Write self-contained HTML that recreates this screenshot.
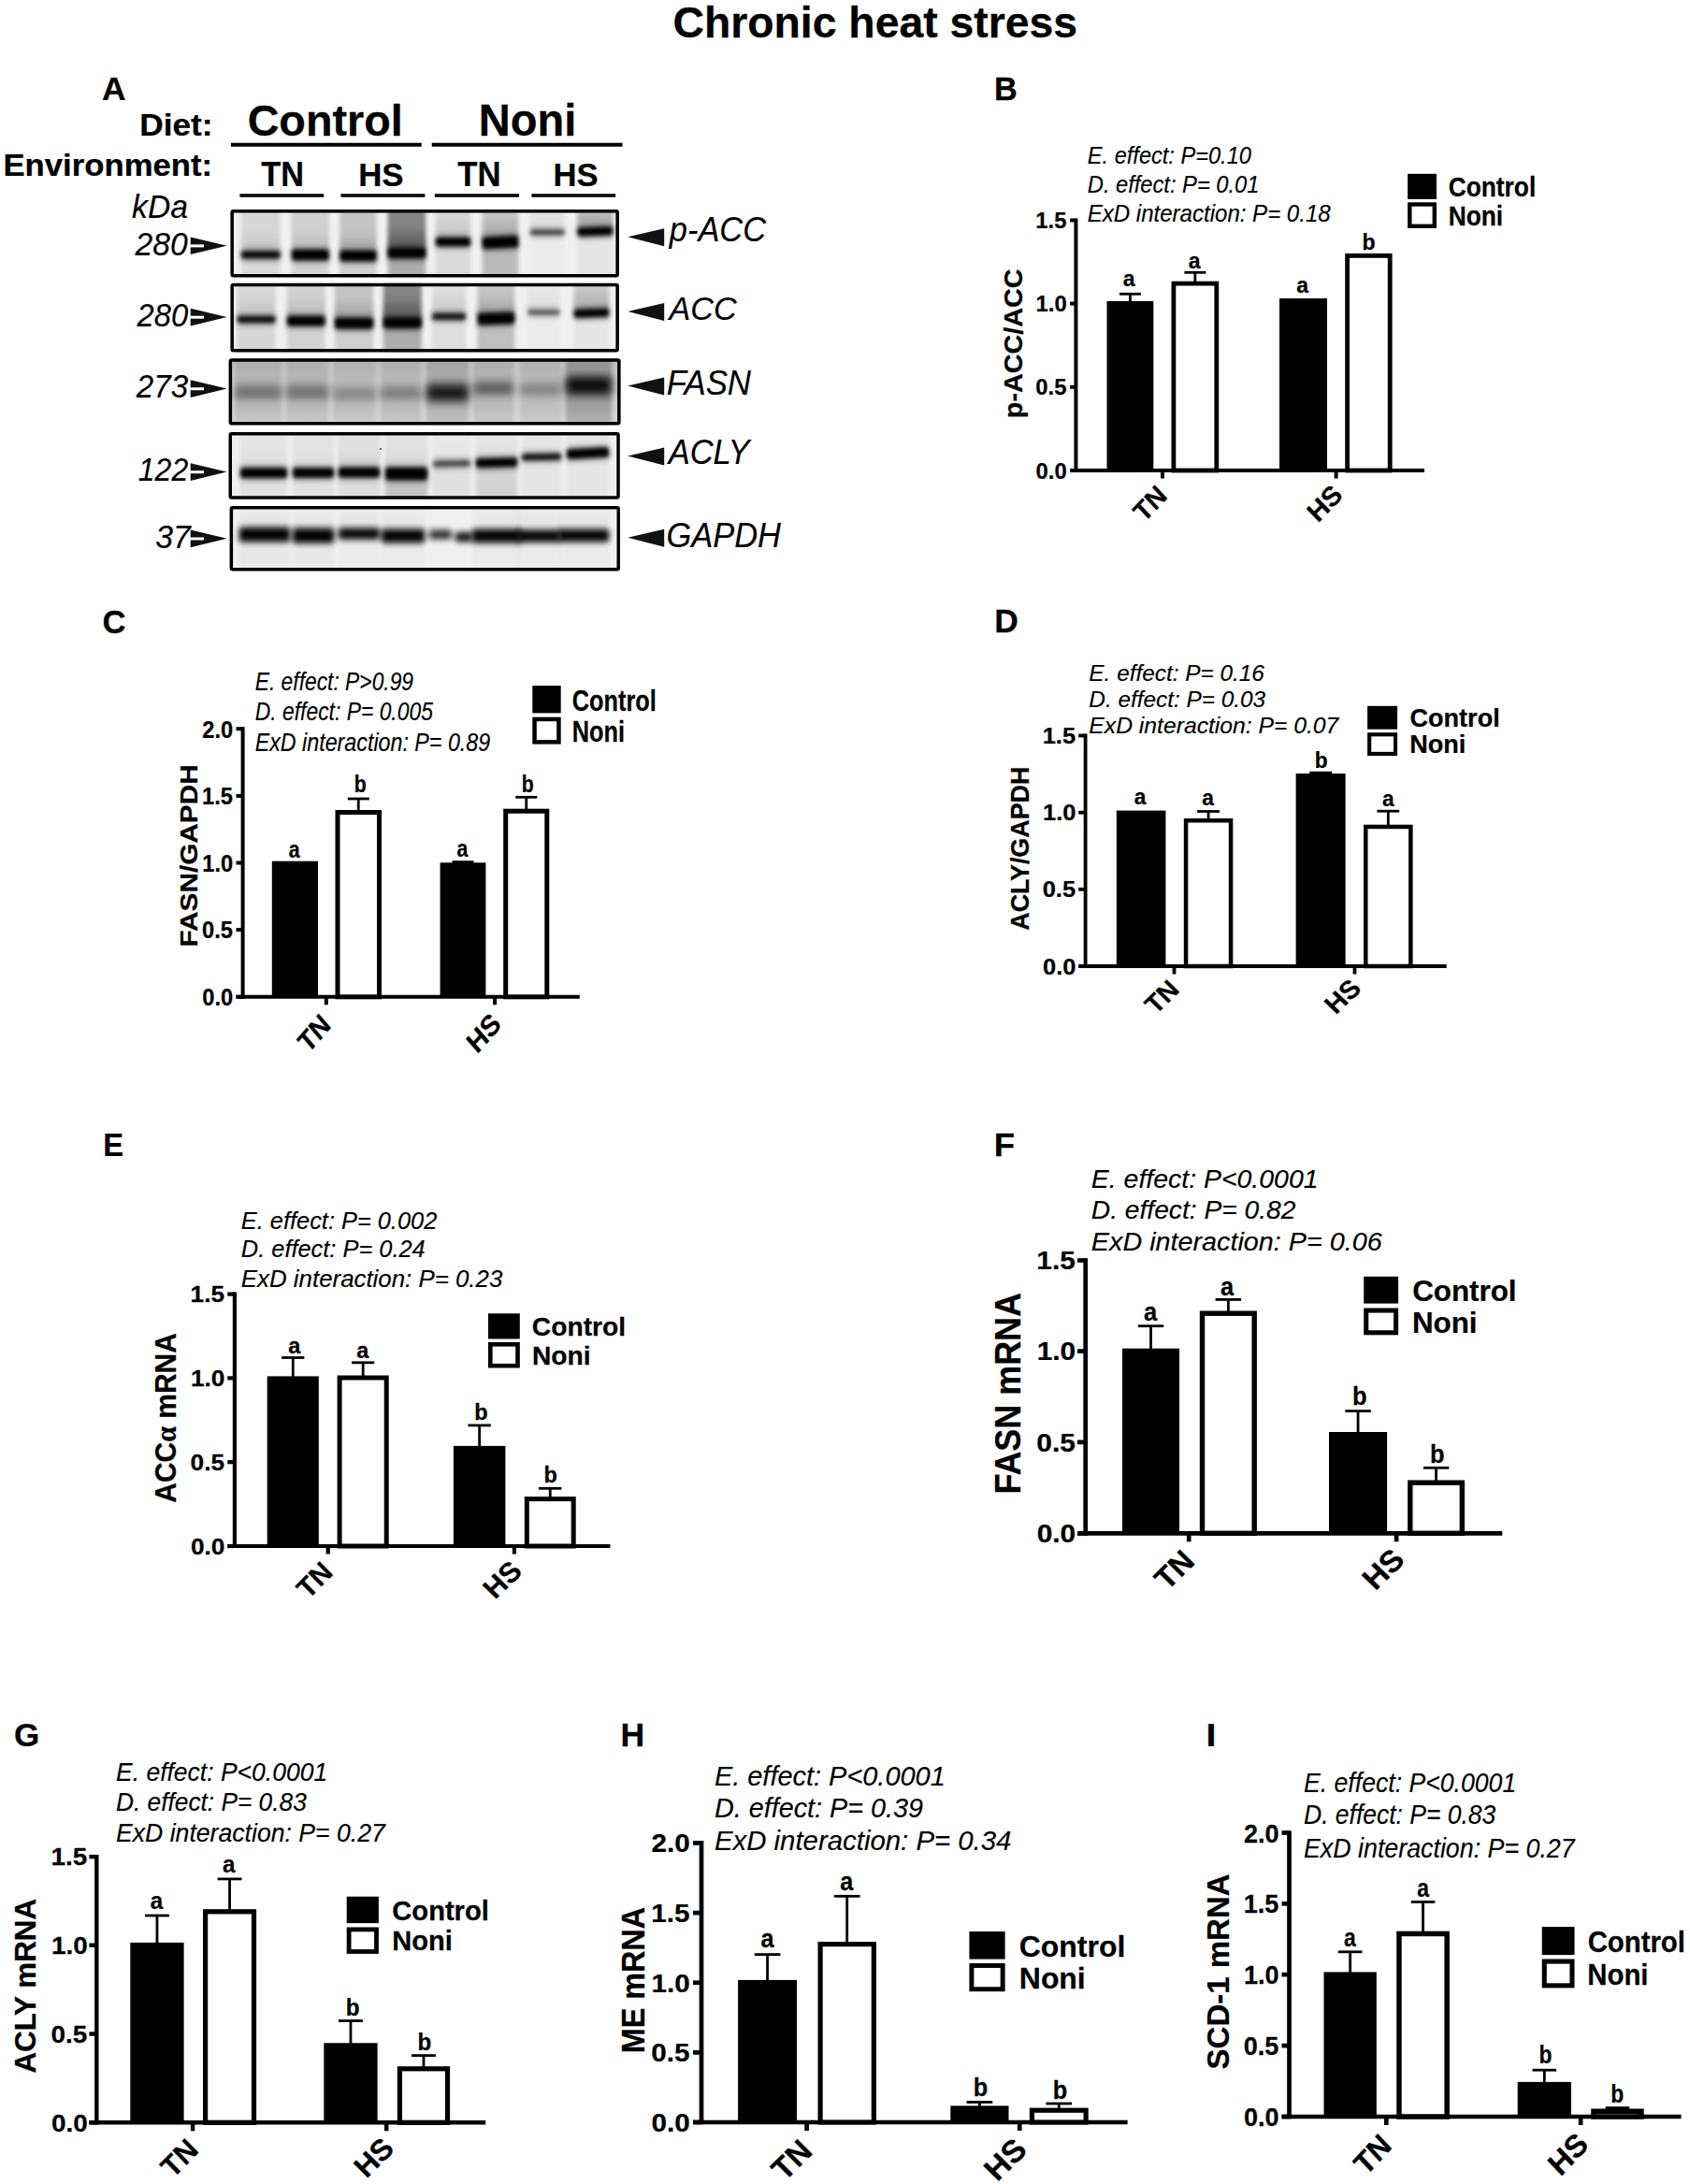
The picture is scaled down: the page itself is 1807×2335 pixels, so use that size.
<!DOCTYPE html>
<html lang="en"><head><meta charset="utf-8"><title>Chronic heat stress</title>
<style>
html,body{margin:0;padding:0;background:#fff;}
svg{display:block;}
text{font-family:"Liberation Sans",sans-serif;fill:#000;stroke:#000;stroke-width:.15px;}
text[font-weight=bold]{stroke-width:.25px;}
</style></head><body>
<svg width="1807" height="2335" viewBox="0 0 1807 2335">
<rect width="1807" height="2335" fill="#fff"/>
<text transform="translate(719.45,39.80) scale(1.0002,1)" font-size="46.34" font-weight="bold">Chronic heat stress</text>
<line x1="1150.40" y1="233.50" x2="1150.40" y2="505.00" stroke="#000" stroke-width="4.00"/>
<line x1="1144.10" y1="503.00" x2="1523.00" y2="503.00" stroke="#000" stroke-width="4.00"/>
<line x1="1144.10" y1="235.50" x2="1150.40" y2="235.50" stroke="#000" stroke-width="4.00"/>
<text transform="translate(1107.31,244.00) scale(0.9644,1)" font-size="24.73" font-weight="bold">1.5</text>
<line x1="1144.10" y1="324.60" x2="1150.40" y2="324.60" stroke="#000" stroke-width="4.00"/>
<text transform="translate(1107.61,333.10) scale(0.9644,1)" font-size="24.73" font-weight="bold">1.0</text>
<line x1="1144.10" y1="413.80" x2="1150.40" y2="413.80" stroke="#000" stroke-width="4.00"/>
<text transform="translate(1107.31,422.30) scale(0.9644,1)" font-size="24.73" font-weight="bold">0.5</text>
<line x1="1144.10" y1="503.00" x2="1150.40" y2="503.00" stroke="#000" stroke-width="4.00"/>
<text transform="translate(1107.61,511.50) scale(0.9644,1)" font-size="24.73" font-weight="bold">0.0</text>
<line x1="1243.00" y1="503.00" x2="1243.00" y2="511.50" stroke="#000" stroke-width="4.00"/>
<line x1="1428.60" y1="503.00" x2="1428.60" y2="511.50" stroke="#000" stroke-width="4.00"/>
<line x1="1208.40" y1="314.30" x2="1208.40" y2="323.00" stroke="#000" stroke-width="2.80"/>
<line x1="1196.90" y1="314.30" x2="1219.90" y2="314.30" stroke="#000" stroke-width="2.80"/>
<rect x="1183.50" y="322.00" width="49.80" height="181.00" fill="#000"/>
<line x1="1277.85" y1="291.30" x2="1277.85" y2="301.70" stroke="#000" stroke-width="2.80"/>
<line x1="1266.35" y1="291.30" x2="1289.35" y2="291.30" stroke="#000" stroke-width="2.80"/>
<rect x="1254.90" y="303.10" width="45.90" height="199.90" fill="#fff" stroke="#000" stroke-width="4.80"/>
<rect x="1368.00" y="319.00" width="51.00" height="184.00" fill="#000"/>
<rect x="1440.60" y="273.40" width="45.60" height="229.60" fill="#fff" stroke="#000" stroke-width="4.80"/>
<text stroke="none" transform="translate(1200.79,306.30) scale(1.0000,1)" font-size="23.00" font-weight="bold">a</text>
<text stroke="none" transform="translate(1270.79,287.30) scale(1.0000,1)" font-size="23.00" font-weight="bold">a</text>
<text stroke="none" transform="translate(1386.19,312.60) scale(1.0000,1)" font-size="23.00" font-weight="bold">a</text>
<text stroke="none" transform="translate(1456.50,266.80) scale(1.0000,1)" font-size="23.00" font-weight="bold">b</text>
<text transform="translate(1223.34,559.53) scale(0.9357,1) rotate(-45)" font-size="29.64" font-weight="bold">TN</text>
<text transform="translate(1409.17,559.76) scale(0.9636,1) rotate(-45)" font-size="29.51" font-weight="bold">HS</text>
<rect x="1505.10" y="185.80" width="30.90" height="27.10" fill="#000"/>
<rect x="1507.30" y="218.50" width="26.50" height="23.30" fill="#fff" stroke="#000" stroke-width="4.40"/>
<text transform="translate(1548.75,210.30) scale(0.9123,1)" font-size="28.83" font-weight="bold">Control</text>
<text transform="translate(1548.72,241.20) scale(0.9123,1)" font-size="28.83" font-weight="bold">Noni</text>
<text transform="translate(1162.79,175.30) scale(0.9024,1)" font-size="26.16" font-style="italic">E. effect: P=0.10</text>
<text transform="translate(1162.79,205.60) scale(0.9055,1)" font-size="26.16" font-style="italic">D. effect: P= 0.01</text>
<text transform="translate(1162.78,236.80) scale(0.9195,1)" font-size="26.16" font-style="italic">ExD interaction: P= 0.18</text>
<text transform="translate(1092.60,445.30) rotate(-90) scale(1,0.9838) translate(-1.87,0)" font-size="28.74" font-weight="bold">p-ACC/ACC</text>
<text transform="translate(1063.09,106.90) scale(0.9815,1)" font-size="34.91" font-weight="bold">B</text>
<line x1="259.60" y1="777.20" x2="259.60" y2="1067.80" stroke="#000" stroke-width="4.00"/>
<line x1="252.50" y1="1065.80" x2="619.80" y2="1065.80" stroke="#000" stroke-width="4.00"/>
<line x1="252.50" y1="779.20" x2="259.60" y2="779.20" stroke="#000" stroke-width="4.00"/>
<text transform="translate(216.37,788.50) scale(0.9267,1)" font-size="25.52" font-weight="bold">2.0</text>
<line x1="252.50" y1="850.90" x2="259.60" y2="850.90" stroke="#000" stroke-width="4.00"/>
<text transform="translate(216.08,860.20) scale(0.9267,1)" font-size="25.52" font-weight="bold">1.5</text>
<line x1="252.50" y1="922.50" x2="259.60" y2="922.50" stroke="#000" stroke-width="4.00"/>
<text transform="translate(216.37,931.80) scale(0.9267,1)" font-size="25.52" font-weight="bold">1.0</text>
<line x1="252.50" y1="994.10" x2="259.60" y2="994.10" stroke="#000" stroke-width="4.00"/>
<text transform="translate(216.08,1003.40) scale(0.9267,1)" font-size="25.52" font-weight="bold">0.5</text>
<line x1="252.50" y1="1065.80" x2="259.60" y2="1065.80" stroke="#000" stroke-width="4.00"/>
<text transform="translate(216.37,1075.10) scale(0.9267,1)" font-size="25.52" font-weight="bold">0.0</text>
<line x1="348.80" y1="1065.80" x2="348.80" y2="1074.30" stroke="#000" stroke-width="4.00"/>
<line x1="529.10" y1="1065.80" x2="529.10" y2="1074.30" stroke="#000" stroke-width="4.00"/>
<rect x="290.80" y="920.70" width="49.20" height="145.10" fill="#000"/>
<line x1="383.25" y1="854.00" x2="383.25" y2="867.00" stroke="#000" stroke-width="2.80"/>
<line x1="371.75" y1="854.00" x2="394.75" y2="854.00" stroke="#000" stroke-width="2.80"/>
<rect x="361.00" y="868.50" width="44.50" height="197.30" fill="#fff" stroke="#000" stroke-width="5.00"/>
<line x1="495.00" y1="921.60" x2="495.00" y2="923.30" stroke="#000" stroke-width="2.80"/>
<line x1="483.50" y1="921.60" x2="506.50" y2="921.60" stroke="#000" stroke-width="2.80"/>
<rect x="470.60" y="922.30" width="48.80" height="143.50" fill="#000"/>
<line x1="562.75" y1="852.30" x2="562.75" y2="865.70" stroke="#000" stroke-width="2.80"/>
<line x1="551.25" y1="852.30" x2="574.25" y2="852.30" stroke="#000" stroke-width="2.80"/>
<rect x="540.70" y="867.20" width="44.10" height="198.60" fill="#fff" stroke="#000" stroke-width="5.00"/>
<text stroke="none" transform="translate(308.70,916.60) scale(0.8500,1)" font-size="25.00" font-weight="bold">a</text>
<text stroke="none" transform="translate(378.85,847.00) scale(0.8500,1)" font-size="25.00" font-weight="bold">b</text>
<text stroke="none" transform="translate(488.50,916.40) scale(0.8500,1)" font-size="25.00" font-weight="bold">a</text>
<text stroke="none" transform="translate(557.75,847.00) scale(0.8500,1)" font-size="25.00" font-weight="bold">b</text>
<text transform="translate(329.69,1127.37) scale(0.8519,1) rotate(-45)" font-size="31.70" font-weight="bold">TN</text>
<text transform="translate(510.13,1127.46) scale(0.8785,1) rotate(-45)" font-size="31.50" font-weight="bold">HS</text>
<rect x="569.30" y="733.10" width="30.40" height="29.30" fill="#000"/>
<rect x="571.55" y="768.95" width="25.90" height="24.40" fill="#fff" stroke="#000" stroke-width="4.50"/>
<text transform="translate(611.79,759.60) scale(0.7979,1)" font-size="31.72" font-weight="bold">Control</text>
<text transform="translate(611.69,792.60) scale(0.7979,1)" font-size="31.72" font-weight="bold">Noni</text>
<text transform="translate(272.72,737.60) scale(0.8178,1)" font-size="27.91" font-style="italic">E. effect: P&gt;0.99</text>
<text transform="translate(272.71,769.90) scale(0.8203,1)" font-size="27.91" font-style="italic">D. effect: P= 0.005</text>
<text transform="translate(272.70,803.10) scale(0.8336,1)" font-size="27.91" font-style="italic">ExD interaction: P= 0.89</text>
<text transform="translate(211.20,1010.40) rotate(-90) scale(1,0.8896) translate(-2.01,0)" font-size="29.77" font-weight="bold">FASN/GAPDH</text>
<text transform="translate(109.61,676.50) scale(0.9830,1)" font-size="35.41" font-weight="bold">C</text>
<line x1="1160.60" y1="784.60" x2="1160.60" y2="1034.90" stroke="#000" stroke-width="3.80"/>
<line x1="1153.20" y1="1033.00" x2="1546.70" y2="1033.00" stroke="#000" stroke-width="3.80"/>
<line x1="1153.20" y1="786.50" x2="1160.60" y2="786.50" stroke="#000" stroke-width="3.80"/>
<text transform="translate(1114.71,795.00) scale(1.0545,1)" font-size="24.15" font-weight="bold">1.5</text>
<line x1="1153.20" y1="868.70" x2="1160.60" y2="868.70" stroke="#000" stroke-width="3.80"/>
<text transform="translate(1115.03,877.20) scale(1.0545,1)" font-size="24.15" font-weight="bold">1.0</text>
<line x1="1153.20" y1="950.80" x2="1160.60" y2="950.80" stroke="#000" stroke-width="3.80"/>
<text transform="translate(1114.71,959.30) scale(1.0545,1)" font-size="24.15" font-weight="bold">0.5</text>
<line x1="1153.20" y1="1033.00" x2="1160.60" y2="1033.00" stroke="#000" stroke-width="3.80"/>
<text transform="translate(1115.03,1041.50) scale(1.0545,1)" font-size="24.15" font-weight="bold">0.0</text>
<line x1="1255.50" y1="1033.00" x2="1255.50" y2="1041.50" stroke="#000" stroke-width="3.80"/>
<line x1="1448.50" y1="1033.00" x2="1448.50" y2="1041.50" stroke="#000" stroke-width="3.80"/>
<rect x="1193.80" y="866.60" width="52.60" height="166.40" fill="#000"/>
<line x1="1292.05" y1="867.50" x2="1292.05" y2="876.00" stroke="#000" stroke-width="2.80"/>
<line x1="1280.15" y1="867.50" x2="1303.95" y2="867.50" stroke="#000" stroke-width="2.80"/>
<rect x="1268.05" y="877.25" width="48.00" height="155.75" fill="#fff" stroke="#000" stroke-width="4.50"/>
<line x1="1412.10" y1="826.20" x2="1412.10" y2="828.00" stroke="#000" stroke-width="2.80"/>
<line x1="1400.20" y1="826.20" x2="1424.00" y2="826.20" stroke="#000" stroke-width="2.80"/>
<rect x="1385.60" y="827.00" width="53.00" height="206.00" fill="#000"/>
<line x1="1484.30" y1="867.20" x2="1484.30" y2="882.70" stroke="#000" stroke-width="2.80"/>
<line x1="1472.40" y1="867.20" x2="1496.20" y2="867.20" stroke="#000" stroke-width="2.80"/>
<rect x="1460.25" y="883.95" width="48.10" height="149.05" fill="#fff" stroke="#000" stroke-width="4.50"/>
<text stroke="none" transform="translate(1212.78,859.80) scale(0.9700,1)" font-size="23.40" font-weight="bold">a</text>
<text stroke="none" transform="translate(1285.28,861.10) scale(0.9700,1)" font-size="23.40" font-weight="bold">a</text>
<text stroke="none" transform="translate(1405.79,821.40) scale(0.9700,1)" font-size="23.40" font-weight="bold">b</text>
<text stroke="none" transform="translate(1477.98,861.50) scale(0.9700,1)" font-size="23.40" font-weight="bold">a</text>
<text transform="translate(1235.82,1085.34) scale(1.0360,1) rotate(-45)" font-size="27.34" font-weight="bold">TN</text>
<text transform="translate(1428.23,1085.26) scale(1.0668,1) rotate(-45)" font-size="27.44" font-weight="bold">HS</text>
<rect x="1462.10" y="754.80" width="32.00" height="24.90" fill="#000"/>
<rect x="1464.17" y="785.28" width="27.85" height="20.65" fill="#fff" stroke="#000" stroke-width="4.15"/>
<text transform="translate(1507.52,777.00) scale(1.0058,1)" font-size="26.90" font-weight="bold">Control</text>
<text transform="translate(1507.17,805.40) scale(1.0058,1)" font-size="26.90" font-weight="bold">Noni</text>
<text transform="translate(1164.37,727.60) scale(1.0289,1)" font-size="23.69" font-style="italic">E. effect: P= 0.16</text>
<text transform="translate(1164.37,755.70) scale(1.0274,1)" font-size="23.69" font-style="italic">D. effect: P= 0.03</text>
<text transform="translate(1164.36,784.00) scale(1.0431,1)" font-size="23.69" font-style="italic">ExD interaction: P= 0.07</text>
<text transform="translate(1100.00,994.10) rotate(-90) scale(1,1.0113) translate(-0.67,0)" font-size="26.87" font-weight="bold">ACLY/GAPDH</text>
<text transform="translate(1063.21,676.20) scale(1.0107,1)" font-size="35.05" font-weight="bold">D</text>
<line x1="250.90" y1="1381.50" x2="250.90" y2="1655.10" stroke="#000" stroke-width="4.20"/>
<line x1="243.30" y1="1653.00" x2="652.40" y2="1653.00" stroke="#000" stroke-width="4.20"/>
<line x1="243.30" y1="1383.60" x2="250.90" y2="1383.60" stroke="#000" stroke-width="4.20"/>
<text transform="translate(203.56,1392.15) scale(1.0799,1)" font-size="24.29" font-weight="bold">1.5</text>
<line x1="243.30" y1="1473.40" x2="250.90" y2="1473.40" stroke="#000" stroke-width="4.20"/>
<text transform="translate(203.89,1481.95) scale(1.0799,1)" font-size="24.29" font-weight="bold">1.0</text>
<line x1="243.30" y1="1563.20" x2="250.90" y2="1563.20" stroke="#000" stroke-width="4.20"/>
<text transform="translate(203.56,1571.75) scale(1.0799,1)" font-size="24.29" font-weight="bold">0.5</text>
<line x1="243.30" y1="1653.00" x2="250.90" y2="1653.00" stroke="#000" stroke-width="4.20"/>
<text transform="translate(203.89,1661.55) scale(1.0799,1)" font-size="24.29" font-weight="bold">0.0</text>
<line x1="350.70" y1="1653.00" x2="350.70" y2="1661.50" stroke="#000" stroke-width="4.20"/>
<line x1="549.90" y1="1653.00" x2="549.90" y2="1661.50" stroke="#000" stroke-width="4.20"/>
<line x1="313.25" y1="1451.50" x2="313.25" y2="1472.40" stroke="#000" stroke-width="2.80"/>
<line x1="301.10" y1="1451.50" x2="325.40" y2="1451.50" stroke="#000" stroke-width="2.80"/>
<rect x="285.70" y="1471.40" width="55.10" height="181.60" fill="#000"/>
<line x1="388.15" y1="1456.80" x2="388.15" y2="1471.50" stroke="#000" stroke-width="2.80"/>
<line x1="376.00" y1="1456.80" x2="400.30" y2="1456.80" stroke="#000" stroke-width="2.80"/>
<rect x="363.10" y="1473.00" width="50.10" height="180.00" fill="#fff" stroke="#000" stroke-width="5.00"/>
<line x1="512.65" y1="1523.90" x2="512.65" y2="1546.90" stroke="#000" stroke-width="2.80"/>
<line x1="500.50" y1="1523.90" x2="524.80" y2="1523.90" stroke="#000" stroke-width="2.80"/>
<rect x="484.90" y="1545.90" width="55.50" height="107.10" fill="#000"/>
<line x1="588.25" y1="1591.30" x2="588.25" y2="1601.10" stroke="#000" stroke-width="2.80"/>
<line x1="576.10" y1="1591.30" x2="600.40" y2="1591.30" stroke="#000" stroke-width="2.80"/>
<rect x="563.30" y="1602.60" width="49.90" height="50.40" fill="#fff" stroke="#000" stroke-width="5.00"/>
<text stroke="none" transform="translate(308.13,1446.50) scale(0.9600,1)" font-size="24.50" font-weight="bold">a</text>
<text stroke="none" transform="translate(381.23,1451.50) scale(0.9600,1)" font-size="24.50" font-weight="bold">a</text>
<text stroke="none" transform="translate(507.33,1518.30) scale(0.9600,1)" font-size="24.50" font-weight="bold">b</text>
<text stroke="none" transform="translate(581.53,1585.00) scale(0.9600,1)" font-size="24.50" font-weight="bold">b</text>
<text transform="translate(329.38,1710.78) scale(0.9912,1) rotate(-45)" font-size="29.97" font-weight="bold">TN</text>
<text transform="translate(529.30,1710.78) scale(1.0353,1) rotate(-45)" font-size="29.97" font-weight="bold">HS</text>
<rect x="522.00" y="1404.30" width="33.80" height="27.20" fill="#000"/>
<rect x="524.30" y="1437.30" width="29.20" height="22.90" fill="#fff" stroke="#000" stroke-width="4.60"/>
<text transform="translate(568.87,1427.90) scale(1.0027,1)" font-size="28.14" font-weight="bold">Control</text>
<text transform="translate(568.90,1459.00) scale(1.0027,1)" font-size="28.14" font-weight="bold">Noni</text>
<text transform="translate(257.84,1313.50) scale(1.0092,1)" font-size="25.15" font-style="italic">E. effect: P= 0.002</text>
<text transform="translate(257.84,1344.40) scale(1.0096,1)" font-size="25.15" font-style="italic">D. effect: P= 0.24</text>
<text transform="translate(257.82,1375.90) scale(1.0281,1)" font-size="25.15" font-style="italic">ExD interaction: P= 0.23</text>
<text transform="translate(188.40,1606.00) rotate(-90) scale(1,1.0327) translate(-0.75,0)" font-size="29.99" font-weight="bold">ACC<tspan font-family="Liberation Serif,serif">α</tspan> mRNA</text>
<text transform="translate(110.19,1236.20) scale(0.9322,1)" font-size="35.05" font-weight="bold">E</text>
<line x1="1160.70" y1="1345.15" x2="1160.70" y2="1641.65" stroke="#000" stroke-width="4.70"/>
<line x1="1152.00" y1="1639.30" x2="1606.30" y2="1639.30" stroke="#000" stroke-width="4.70"/>
<line x1="1152.00" y1="1347.50" x2="1160.70" y2="1347.50" stroke="#000" stroke-width="4.70"/>
<text transform="translate(1108.33,1357.10) scale(1.0914,1)" font-size="27.35" font-weight="bold">1.5</text>
<line x1="1152.00" y1="1444.60" x2="1160.70" y2="1444.60" stroke="#000" stroke-width="4.70"/>
<text transform="translate(1108.71,1454.20) scale(1.0914,1)" font-size="27.35" font-weight="bold">1.0</text>
<line x1="1152.00" y1="1541.90" x2="1160.70" y2="1541.90" stroke="#000" stroke-width="4.70"/>
<text transform="translate(1108.33,1551.50) scale(1.0914,1)" font-size="27.35" font-weight="bold">0.5</text>
<line x1="1152.00" y1="1639.30" x2="1160.70" y2="1639.30" stroke="#000" stroke-width="4.70"/>
<text transform="translate(1108.71,1648.90) scale(1.0914,1)" font-size="27.35" font-weight="bold">0.0</text>
<line x1="1271.20" y1="1639.30" x2="1271.20" y2="1648.30" stroke="#000" stroke-width="4.70"/>
<line x1="1493.10" y1="1639.30" x2="1493.10" y2="1648.30" stroke="#000" stroke-width="4.70"/>
<line x1="1230.50" y1="1417.70" x2="1230.50" y2="1442.70" stroke="#000" stroke-width="2.80"/>
<line x1="1216.75" y1="1417.70" x2="1244.25" y2="1417.70" stroke="#000" stroke-width="2.80"/>
<rect x="1200.00" y="1441.70" width="61.00" height="197.60" fill="#000"/>
<line x1="1313.35" y1="1389.40" x2="1313.35" y2="1402.50" stroke="#000" stroke-width="2.80"/>
<line x1="1299.60" y1="1389.40" x2="1327.10" y2="1389.40" stroke="#000" stroke-width="2.80"/>
<rect x="1285.50" y="1404.20" width="55.70" height="235.10" fill="#fff" stroke="#000" stroke-width="5.40"/>
<line x1="1452.05" y1="1508.60" x2="1452.05" y2="1532.00" stroke="#000" stroke-width="2.80"/>
<line x1="1438.30" y1="1508.60" x2="1465.80" y2="1508.60" stroke="#000" stroke-width="2.80"/>
<rect x="1421.00" y="1531.00" width="62.10" height="108.30" fill="#000"/>
<line x1="1535.55" y1="1569.30" x2="1535.55" y2="1583.50" stroke="#000" stroke-width="2.80"/>
<line x1="1521.80" y1="1569.30" x2="1549.30" y2="1569.30" stroke="#000" stroke-width="2.80"/>
<rect x="1507.80" y="1585.20" width="55.50" height="54.10" fill="#fff" stroke="#000" stroke-width="5.40"/>
<text stroke="none" transform="translate(1223.06,1411.70) scale(0.9500,1)" font-size="26.80" font-weight="bold">a</text>
<text stroke="none" transform="translate(1304.96,1384.90) scale(0.9500,1)" font-size="26.80" font-weight="bold">a</text>
<text stroke="none" transform="translate(1446.12,1501.50) scale(0.9500,1)" font-size="26.80" font-weight="bold">b</text>
<text stroke="none" transform="translate(1528.92,1564.00) scale(0.9500,1)" font-size="26.80" font-weight="bold">b</text>
<text transform="translate(1247.95,1701.38) scale(1.0195,1) rotate(-45)" font-size="32.36" font-weight="bold">TN</text>
<text transform="translate(1470.61,1701.30) scale(1.0416,1) rotate(-45)" font-size="32.42" font-weight="bold">HS</text>
<rect x="1458.20" y="1364.80" width="36.90" height="28.80" fill="#000"/>
<rect x="1460.73" y="1401.03" width="31.85" height="23.75" fill="#fff" stroke="#000" stroke-width="5.05"/>
<text transform="translate(1510.15,1390.90) scale(1.0013,1)" font-size="31.31" font-weight="bold">Control</text>
<text transform="translate(1509.88,1424.60) scale(1.0013,1)" font-size="31.31" font-weight="bold">Noni</text>
<text transform="translate(1166.85,1269.60) scale(1.0087,1)" font-size="28.20" font-style="italic">E. effect: P&lt;0.0001</text>
<text transform="translate(1166.85,1302.90) scale(0.9995,1)" font-size="28.20" font-style="italic">D. effect: P= 0.82</text>
<text transform="translate(1166.84,1336.80) scale(1.0198,1)" font-size="28.20" font-style="italic">ExD interaction: P= 0.06</text>
<text transform="translate(1091.10,1595.10) rotate(-90) scale(1,1.0812) translate(-2.43,0)" font-size="35.94" font-weight="bold">FASN mRNA</text>
<text transform="translate(1062.84,1236.20) scale(1.0399,1)" font-size="35.05" font-weight="bold">F</text>
<line x1="103.30" y1="1982.90" x2="103.30" y2="2271.50" stroke="#000" stroke-width="4.40"/>
<line x1="95.40" y1="2269.30" x2="519.20" y2="2269.30" stroke="#000" stroke-width="4.40"/>
<line x1="95.40" y1="1985.10" x2="103.30" y2="1985.10" stroke="#000" stroke-width="4.40"/>
<text transform="translate(54.55,1994.30) scale(1.0665,1)" font-size="26.18" font-weight="bold">1.5</text>
<line x1="95.40" y1="2079.70" x2="103.30" y2="2079.70" stroke="#000" stroke-width="4.40"/>
<text transform="translate(54.90,2088.90) scale(1.0665,1)" font-size="26.18" font-weight="bold">1.0</text>
<line x1="95.40" y1="2174.50" x2="103.30" y2="2174.50" stroke="#000" stroke-width="4.40"/>
<text transform="translate(54.55,2183.70) scale(1.0665,1)" font-size="26.18" font-weight="bold">0.5</text>
<line x1="95.40" y1="2269.30" x2="103.30" y2="2269.30" stroke="#000" stroke-width="4.40"/>
<text transform="translate(54.90,2278.50) scale(1.0665,1)" font-size="26.18" font-weight="bold">0.0</text>
<line x1="206.10" y1="2269.30" x2="206.10" y2="2278.30" stroke="#000" stroke-width="4.40"/>
<line x1="413.20" y1="2269.30" x2="413.20" y2="2278.30" stroke="#000" stroke-width="4.40"/>
<line x1="167.95" y1="2048.00" x2="167.95" y2="2077.90" stroke="#000" stroke-width="2.80"/>
<line x1="155.00" y1="2048.00" x2="180.90" y2="2048.00" stroke="#000" stroke-width="2.80"/>
<rect x="139.30" y="2076.90" width="57.30" height="192.40" fill="#000"/>
<line x1="245.55" y1="2008.90" x2="245.55" y2="2042.20" stroke="#000" stroke-width="2.80"/>
<line x1="232.60" y1="2008.90" x2="258.50" y2="2008.90" stroke="#000" stroke-width="2.80"/>
<rect x="219.60" y="2043.80" width="51.90" height="225.50" fill="#fff" stroke="#000" stroke-width="5.20"/>
<line x1="374.95" y1="2160.50" x2="374.95" y2="2185.30" stroke="#000" stroke-width="2.80"/>
<line x1="362.00" y1="2160.50" x2="387.90" y2="2160.50" stroke="#000" stroke-width="2.80"/>
<rect x="346.30" y="2184.30" width="57.30" height="85.00" fill="#000"/>
<line x1="452.95" y1="2197.60" x2="452.95" y2="2210.20" stroke="#000" stroke-width="2.80"/>
<line x1="440.00" y1="2197.60" x2="465.90" y2="2197.60" stroke="#000" stroke-width="2.80"/>
<rect x="427.40" y="2211.80" width="51.10" height="57.50" fill="#fff" stroke="#000" stroke-width="5.20"/>
<text stroke="none" transform="translate(160.84,2041.40) scale(0.9300,1)" font-size="26.00" font-weight="bold">a</text>
<text stroke="none" transform="translate(238.04,2002.10) scale(0.9300,1)" font-size="26.00" font-weight="bold">a</text>
<text stroke="none" transform="translate(369.72,2155.20) scale(0.9300,1)" font-size="26.00" font-weight="bold">b</text>
<text stroke="none" transform="translate(446.52,2191.60) scale(0.9300,1)" font-size="26.00" font-weight="bold">b</text>
<text transform="translate(184.64,2329.95) scale(0.9765,1) rotate(-45)" font-size="31.62" font-weight="bold">TN</text>
<text transform="translate(391.80,2329.87) scale(1.0066,1) rotate(-45)" font-size="31.73" font-weight="bold">HS</text>
<rect x="370.70" y="2027.70" width="34.20" height="28.40" fill="#000"/>
<rect x="373.10" y="2062.90" width="29.40" height="23.60" fill="#fff" stroke="#000" stroke-width="4.80"/>
<text transform="translate(419.34,2052.50) scale(0.9910,1)" font-size="29.38" font-weight="bold">Control</text>
<text transform="translate(419.23,2085.40) scale(0.9910,1)" font-size="29.38" font-weight="bold">Noni</text>
<text transform="translate(124.00,1903.80) scale(0.9553,1)" font-size="27.76" font-style="italic">E. effect: P&lt;0.0001</text>
<text transform="translate(124.01,1935.90) scale(0.9473,1)" font-size="27.76" font-style="italic">D. effect: P= 0.83</text>
<text transform="translate(124.00,1969.20) scale(0.9598,1)" font-size="27.76" font-style="italic">ExD interaction: P= 0.27</text>
<text transform="translate(38.40,2215.80) rotate(-90) scale(1,0.9852) translate(-0.79,0)" font-size="31.43" font-weight="bold">ACLY mRNA</text>
<text transform="translate(15.10,1867.00) scale(0.9796,1)" font-size="35.84" font-weight="bold">G</text>
<line x1="750.00" y1="1968.05" x2="750.00" y2="2271.35" stroke="#000" stroke-width="4.70"/>
<line x1="741.00" y1="2269.00" x2="1205.60" y2="2269.00" stroke="#000" stroke-width="4.70"/>
<line x1="741.00" y1="1970.40" x2="750.00" y2="1970.40" stroke="#000" stroke-width="4.70"/>
<text transform="translate(696.56,1980.35) scale(1.0608,1)" font-size="27.96" font-weight="bold">2.0</text>
<line x1="741.00" y1="2045.10" x2="750.00" y2="2045.10" stroke="#000" stroke-width="4.70"/>
<text transform="translate(696.19,2055.05) scale(1.0608,1)" font-size="27.96" font-weight="bold">1.5</text>
<line x1="741.00" y1="2119.70" x2="750.00" y2="2119.70" stroke="#000" stroke-width="4.70"/>
<text transform="translate(696.56,2129.65) scale(1.0608,1)" font-size="27.96" font-weight="bold">1.0</text>
<line x1="741.00" y1="2194.40" x2="750.00" y2="2194.40" stroke="#000" stroke-width="4.70"/>
<text transform="translate(696.19,2204.35) scale(1.0608,1)" font-size="27.96" font-weight="bold">0.5</text>
<line x1="741.00" y1="2269.00" x2="750.00" y2="2269.00" stroke="#000" stroke-width="4.70"/>
<text transform="translate(696.56,2278.95) scale(1.0608,1)" font-size="27.96" font-weight="bold">0.0</text>
<line x1="862.60" y1="2269.00" x2="862.60" y2="2278.00" stroke="#000" stroke-width="4.70"/>
<line x1="1090.20" y1="2269.00" x2="1090.20" y2="2278.00" stroke="#000" stroke-width="4.70"/>
<line x1="820.55" y1="2089.60" x2="820.55" y2="2117.90" stroke="#000" stroke-width="2.80"/>
<line x1="806.70" y1="2089.60" x2="834.40" y2="2089.60" stroke="#000" stroke-width="2.80"/>
<rect x="789.10" y="2116.90" width="62.90" height="152.10" fill="#000"/>
<line x1="905.70" y1="2027.30" x2="905.70" y2="2077.00" stroke="#000" stroke-width="2.80"/>
<line x1="891.85" y1="2027.30" x2="919.55" y2="2027.30" stroke="#000" stroke-width="2.80"/>
<rect x="877.10" y="2078.60" width="57.20" height="190.40" fill="#fff" stroke="#000" stroke-width="5.20"/>
<line x1="1047.40" y1="2247.50" x2="1047.40" y2="2252.40" stroke="#000" stroke-width="2.80"/>
<line x1="1033.55" y1="2247.50" x2="1061.25" y2="2247.50" stroke="#000" stroke-width="2.80"/>
<rect x="1016.30" y="2251.40" width="62.20" height="17.60" fill="#000"/>
<line x1="1132.25" y1="2249.00" x2="1132.25" y2="2254.60" stroke="#000" stroke-width="2.80"/>
<line x1="1118.40" y1="2249.00" x2="1146.10" y2="2249.00" stroke="#000" stroke-width="2.80"/>
<rect x="1103.40" y="2256.20" width="57.70" height="12.80" fill="#fff" stroke="#000" stroke-width="5.20"/>
<text stroke="none" transform="translate(813.50,2081.60) scale(0.9200,1)" font-size="27.50" font-weight="bold">a</text>
<text stroke="none" transform="translate(898.30,2021.00) scale(0.9200,1)" font-size="27.50" font-weight="bold">a</text>
<text stroke="none" transform="translate(1040.67,2241.20) scale(0.9200,1)" font-size="27.50" font-weight="bold">b</text>
<text stroke="none" transform="translate(1125.87,2243.60) scale(0.9200,1)" font-size="27.50" font-weight="bold">b</text>
<text transform="translate(838.76,2332.91) scale(1.0074,1) rotate(-45)" font-size="33.18" font-weight="bold">TN</text>
<text transform="translate(1066.37,2333.16) scale(1.0196,1) rotate(-45)" font-size="33.50" font-weight="bold">HS</text>
<rect x="1036.40" y="2065.00" width="38.20" height="29.60" fill="#000"/>
<rect x="1038.88" y="2101.47" width="33.25" height="25.25" fill="#fff" stroke="#000" stroke-width="4.95"/>
<text transform="translate(1089.82,2091.60) scale(1.0021,1)" font-size="31.86" font-weight="bold">Control</text>
<text transform="translate(1089.84,2125.70) scale(1.0021,1)" font-size="31.86" font-weight="bold">Noni</text>
<text transform="translate(763.93,1908.90) scale(1.0108,1)" font-size="28.63" font-style="italic">E. effect: P&lt;0.0001</text>
<text transform="translate(763.94,1943.00) scale(1.0043,1)" font-size="28.63" font-style="italic">D. effect: P= 0.39</text>
<text transform="translate(763.92,1977.80) scale(1.0260,1)" font-size="28.63" font-style="italic">ExD interaction: P= 0.34</text>
<text transform="translate(689.40,2193.10) rotate(-90) scale(1,1.0922) translate(-2.18,0)" font-size="32.36" font-weight="bold">ME mRNA</text>
<text transform="translate(663.60,1866.70) scale(1.0065,1)" font-size="35.35" font-weight="bold">H</text>
<line x1="1378.50" y1="1957.15" x2="1378.50" y2="2265.35" stroke="#000" stroke-width="4.70"/>
<line x1="1370.50" y1="2263.00" x2="1797.50" y2="2263.00" stroke="#000" stroke-width="4.70"/>
<line x1="1370.50" y1="1959.50" x2="1378.50" y2="1959.50" stroke="#000" stroke-width="4.70"/>
<text transform="translate(1330.06,1969.55) scale(0.9558,1)" font-size="28.24" font-weight="bold">2.0</text>
<line x1="1370.50" y1="2035.30" x2="1378.50" y2="2035.30" stroke="#000" stroke-width="4.70"/>
<text transform="translate(1329.72,2045.35) scale(0.9558,1)" font-size="28.24" font-weight="bold">1.5</text>
<line x1="1370.50" y1="2111.10" x2="1378.50" y2="2111.10" stroke="#000" stroke-width="4.70"/>
<text transform="translate(1330.06,2121.15) scale(0.9558,1)" font-size="28.24" font-weight="bold">1.0</text>
<line x1="1370.50" y1="2187.10" x2="1378.50" y2="2187.10" stroke="#000" stroke-width="4.70"/>
<text transform="translate(1329.72,2197.15) scale(0.9558,1)" font-size="28.24" font-weight="bold">0.5</text>
<line x1="1370.50" y1="2263.00" x2="1378.50" y2="2263.00" stroke="#000" stroke-width="4.70"/>
<text transform="translate(1330.06,2273.05) scale(0.9558,1)" font-size="28.24" font-weight="bold">0.0</text>
<line x1="1482.30" y1="2263.00" x2="1482.30" y2="2272.00" stroke="#000" stroke-width="4.70"/>
<line x1="1690.10" y1="2263.00" x2="1690.10" y2="2272.00" stroke="#000" stroke-width="4.70"/>
<line x1="1443.65" y1="2086.80" x2="1443.65" y2="2109.40" stroke="#000" stroke-width="2.80"/>
<line x1="1430.85" y1="2086.80" x2="1456.45" y2="2086.80" stroke="#000" stroke-width="2.80"/>
<rect x="1415.50" y="2108.40" width="56.30" height="154.60" fill="#000"/>
<line x1="1521.55" y1="2033.40" x2="1521.55" y2="2065.70" stroke="#000" stroke-width="2.80"/>
<line x1="1508.75" y1="2033.40" x2="1534.35" y2="2033.40" stroke="#000" stroke-width="2.80"/>
<rect x="1495.95" y="2067.45" width="51.20" height="195.55" fill="#fff" stroke="#000" stroke-width="5.50"/>
<line x1="1651.30" y1="2213.20" x2="1651.30" y2="2226.90" stroke="#000" stroke-width="2.80"/>
<line x1="1638.50" y1="2213.20" x2="1664.10" y2="2213.20" stroke="#000" stroke-width="2.80"/>
<rect x="1622.70" y="2225.90" width="57.20" height="37.10" fill="#000"/>
<line x1="1729.45" y1="2253.60" x2="1729.45" y2="2255.50" stroke="#000" stroke-width="2.80"/>
<line x1="1716.65" y1="2253.60" x2="1742.25" y2="2253.60" stroke="#000" stroke-width="2.80"/>
<rect x="1703.95" y="2257.25" width="51.00" height="5.75" fill="#fff" stroke="#000" stroke-width="5.50"/>
<text stroke="none" transform="translate(1437.04,2080.90) scale(0.8300,1)" font-size="27.50" font-weight="bold">a</text>
<text stroke="none" transform="translate(1515.24,2028.40) scale(0.8300,1)" font-size="27.50" font-weight="bold">a</text>
<text stroke="none" transform="translate(1645.55,2205.90) scale(0.8300,1)" font-size="27.50" font-weight="bold">b</text>
<text stroke="none" transform="translate(1722.25,2248.20) scale(0.8300,1)" font-size="27.50" font-weight="bold">b</text>
<text transform="translate(1460.44,2327.23) scale(0.9281,1) rotate(-45)" font-size="33.27" font-weight="bold">TN</text>
<text transform="translate(1668.60,2327.67) scale(0.9518,1) rotate(-45)" font-size="33.80" font-weight="bold">HS</text>
<rect x="1648.70" y="2060.10" width="34.80" height="30.00" fill="#000"/>
<rect x="1651.25" y="2097.05" width="29.70" height="25.80" fill="#fff" stroke="#000" stroke-width="5.10"/>
<text transform="translate(1697.63,2087.00) scale(0.9291,1)" font-size="31.59" font-weight="bold">Control</text>
<text transform="translate(1697.32,2121.70) scale(0.9291,1)" font-size="31.59" font-weight="bold">Noni</text>
<text transform="translate(1394.00,1915.50) scale(0.8893,1)" font-size="29.94" font-style="italic">E. effect: P&lt;0.0001</text>
<text transform="translate(1394.01,1950.10) scale(0.8848,1)" font-size="29.94" font-style="italic">D. effect: P= 0.83</text>
<text transform="translate(1394.00,1985.50) scale(0.8951,1)" font-size="29.94" font-style="italic">ExD interaction: P= 0.27</text>
<text transform="translate(1313.50,2211.40) rotate(-90) scale(1,0.9821) translate(-0.99,0)" font-size="32.99" font-weight="bold">SCD-1 mRNA</text>
<text transform="translate(1289.55,1866.70) scale(1.1118,1)" font-size="35.35" font-weight="bold">I</text>
<defs>
<filter id="b1" x="-30%" y="-100%" width="160%" height="300%"><feGaussianBlur stdDeviation="2.2 1.9"/></filter>
<filter id="b2" x="-30%" y="-100%" width="160%" height="300%"><feGaussianBlur stdDeviation="3 3"/></filter>
<filter id="b3" x="-30%" y="-50%" width="160%" height="200%"><feGaussianBlur stdDeviation="2.0 6"/></filter>
<filter id="b4" x="-30%" y="-100%" width="160%" height="300%"><feGaussianBlur stdDeviation="5 5"/></filter>
<linearGradient id="fg" x1="0" y1="0" x2="0" y2="1"><stop offset="0" stop-color="#000" stop-opacity=".06"/><stop offset=".55" stop-color="#fff" stop-opacity="0"/><stop offset="1" stop-color="#fff" stop-opacity=".3"/></linearGradient>
</defs>
<clipPath id="cp1"><rect x="246.4" y="223.9" width="415.5" height="72.5"/></clipPath>
<g clip-path="url(#cp1)">
<rect x="246.40" y="223.90" width="415.50" height="72.50" fill="#f0f0f0"/>
<rect x="257.8" y="211.9" width="41.9" height="60.5" fill="#000" opacity="0.10" filter="url(#b3)"/>
<rect x="257.8" y="252.4" width="41.9" height="20.0" fill="#000" opacity="0.05" filter="url(#b3)"/>
<rect x="257.8" y="272.4" width="41.9" height="36.0" fill="#000" opacity="0.09" filter="url(#b3)"/>
<rect x="311.8" y="211.9" width="40.0" height="60.6" fill="#000" opacity="0.13" filter="url(#b3)"/>
<rect x="311.8" y="252.5" width="40.0" height="20.0" fill="#000" opacity="0.07" filter="url(#b3)"/>
<rect x="311.8" y="272.5" width="40.0" height="35.9" fill="#000" opacity="0.12" filter="url(#b3)"/>
<rect x="363.2" y="211.9" width="39.4" height="61.6" fill="#000" opacity="0.18" filter="url(#b3)"/>
<rect x="363.2" y="253.5" width="39.4" height="20.0" fill="#000" opacity="0.10" filter="url(#b3)"/>
<rect x="363.2" y="273.5" width="39.4" height="34.9" fill="#000" opacity="0.13" filter="url(#b3)"/>
<rect x="414.6" y="211.9" width="40.6" height="58.4" fill="#000" opacity="0.45" filter="url(#b3)"/>
<rect x="414.6" y="250.3" width="40.6" height="20.0" fill="#000" opacity="0.25" filter="url(#b3)"/>
<rect x="414.6" y="270.3" width="40.6" height="38.1" fill="#000" opacity="0.28" filter="url(#b3)"/>
<rect x="465.8" y="211.9" width="37.4" height="46.6" fill="#000" opacity="0.10" filter="url(#b3)"/>
<rect x="465.8" y="238.5" width="37.4" height="20.0" fill="#000" opacity="0.05" filter="url(#b3)"/>
<rect x="465.8" y="258.5" width="37.4" height="49.9" fill="#000" opacity="0.09" filter="url(#b3)"/>
<rect x="515.6" y="211.9" width="38.6" height="47.1" fill="#000" opacity="0.18" filter="url(#b3)"/>
<rect x="515.6" y="239.0" width="38.6" height="20.0" fill="#000" opacity="0.10" filter="url(#b3)"/>
<rect x="515.6" y="259.0" width="38.6" height="49.4" fill="#000" opacity="0.22" filter="url(#b3)"/>
<rect x="566.5" y="211.9" width="37.2" height="36.4" fill="#000" opacity="0.04" filter="url(#b3)"/>
<rect x="566.5" y="228.3" width="37.2" height="20.0" fill="#000" opacity="0.02" filter="url(#b3)"/>
<rect x="566.5" y="248.3" width="37.2" height="60.1" fill="#000" opacity="0.02" filter="url(#b3)"/>
<rect x="617.4" y="211.9" width="37.8" height="35.4" fill="#000" opacity="0.18" filter="url(#b3)"/>
<rect x="617.4" y="227.3" width="37.8" height="20.0" fill="#000" opacity="0.10" filter="url(#b3)"/>
<rect x="617.4" y="247.3" width="37.8" height="61.1" fill="#000" opacity="0.04" filter="url(#b3)"/>
<rect x="258.0" y="265.6" width="41.5" height="13.5" rx="3" fill="#000" opacity="0.33" filter="url(#b2)"/>
<rect x="258.2" y="268.5" width="41.1" height="7.8" rx="2.5" fill="#000" opacity="0.92" filter="url(#b1)"/>
<rect x="312.0" y="264.2" width="39.6" height="16.5" rx="3" fill="#000" opacity="0.36" filter="url(#b2)"/>
<rect x="312.2" y="267.1" width="39.2" height="10.8" rx="2.5" fill="#000" opacity="1.00" filter="url(#b1)"/>
<rect x="363.4" y="265.2" width="39.0" height="16.5" rx="3" fill="#000" opacity="0.36" filter="url(#b2)"/>
<rect x="363.6" y="268.1" width="38.6" height="10.8" rx="2.5" fill="#000" opacity="1.00" filter="url(#b1)"/>
<rect x="414.8" y="262.1" width="40.2" height="16.5" rx="3" fill="#000" opacity="0.36" filter="url(#b2)"/>
<rect x="415.0" y="264.9" width="39.8" height="10.8" rx="2.5" fill="#000" opacity="1.00" filter="url(#b1)"/>
<rect x="466.0" y="251.2" width="37.0" height="14.5" rx="3" fill="#000" opacity="0.36" filter="url(#b2)"/>
<rect x="466.2" y="254.1" width="36.6" height="8.8" rx="2.5" fill="#000" opacity="1.00" filter="url(#b1)"/>
<rect x="515.8" y="250.2" width="38.2" height="17.5" rx="3" fill="#000" opacity="0.36" filter="url(#b2)" transform="rotate(-3 534.9 259.0)"/>
<rect x="516.0" y="253.1" width="37.8" height="11.8" rx="2.5" fill="#000" opacity="1.00" filter="url(#b1)" transform="rotate(-3 534.9 259.0)"/>
<rect x="566.7" y="242.6" width="36.8" height="11.5" rx="3" fill="#000" opacity="0.22" filter="url(#b2)"/>
<rect x="566.9" y="245.4" width="36.4" height="5.8" rx="2.2" fill="#000" opacity="0.60" filter="url(#b1)"/>
<rect x="617.6" y="240.1" width="37.4" height="14.5" rx="3" fill="#000" opacity="0.36" filter="url(#b2)" transform="rotate(-2 636.3 247.3)"/>
<rect x="617.8" y="242.9" width="37.0" height="8.8" rx="2.5" fill="#000" opacity="1.00" filter="url(#b1)" transform="rotate(-2 636.3 247.3)"/>
</g>
<rect x="248.15" y="225.65" width="412.00" height="69.00" fill="none" stroke="#000" stroke-width="3.5" rx="1.5"/>
<clipPath id="cp2"><rect x="246.4" y="302.8" width="415.5" height="73.8"/></clipPath>
<g clip-path="url(#cp2)">
<rect x="246.40" y="302.80" width="415.50" height="73.80" fill="#f0f0f0"/>
<rect x="253.5" y="290.8" width="41.2" height="50.7" fill="#000" opacity="0.10" filter="url(#b3)"/>
<rect x="253.5" y="321.5" width="41.2" height="20.0" fill="#000" opacity="0.05" filter="url(#b3)"/>
<rect x="253.5" y="341.5" width="41.2" height="47.1" fill="#000" opacity="0.10" filter="url(#b3)"/>
<rect x="306.8" y="290.8" width="40.9" height="52.2" fill="#000" opacity="0.13" filter="url(#b3)"/>
<rect x="306.8" y="323.0" width="40.9" height="20.0" fill="#000" opacity="0.07" filter="url(#b3)"/>
<rect x="306.8" y="343.0" width="40.9" height="45.6" fill="#000" opacity="0.12" filter="url(#b3)"/>
<rect x="357.8" y="290.8" width="41.4" height="54.7" fill="#000" opacity="0.19" filter="url(#b3)"/>
<rect x="357.8" y="325.5" width="41.4" height="20.0" fill="#000" opacity="0.11" filter="url(#b3)"/>
<rect x="357.8" y="345.5" width="41.4" height="43.1" fill="#000" opacity="0.14" filter="url(#b3)"/>
<rect x="409.8" y="290.8" width="40.9" height="54.2" fill="#000" opacity="0.45" filter="url(#b3)"/>
<rect x="409.8" y="325.0" width="40.9" height="20.0" fill="#000" opacity="0.25" filter="url(#b3)"/>
<rect x="409.8" y="345.0" width="40.9" height="43.6" fill="#000" opacity="0.28" filter="url(#b3)"/>
<rect x="461.8" y="290.8" width="36.4" height="47.6" fill="#000" opacity="0.08" filter="url(#b3)"/>
<rect x="461.8" y="318.4" width="36.4" height="20.0" fill="#000" opacity="0.05" filter="url(#b3)"/>
<rect x="461.8" y="338.4" width="36.4" height="50.2" fill="#000" opacity="0.07" filter="url(#b3)"/>
<rect x="510.5" y="290.8" width="39.7" height="49.7" fill="#000" opacity="0.18" filter="url(#b3)"/>
<rect x="510.5" y="320.5" width="39.7" height="20.0" fill="#000" opacity="0.10" filter="url(#b3)"/>
<rect x="510.5" y="340.5" width="39.7" height="48.1" fill="#000" opacity="0.20" filter="url(#b3)"/>
<rect x="563.8" y="290.8" width="34.9" height="43.0" fill="#000" opacity="0.03" filter="url(#b3)"/>
<rect x="563.8" y="313.8" width="34.9" height="20.0" fill="#000" opacity="0.02" filter="url(#b3)"/>
<rect x="563.8" y="333.8" width="34.9" height="54.8" fill="#000" opacity="0.02" filter="url(#b3)"/>
<rect x="613.6" y="290.8" width="37.6" height="43.8" fill="#000" opacity="0.16" filter="url(#b3)"/>
<rect x="613.6" y="314.6" width="37.6" height="20.0" fill="#000" opacity="0.09" filter="url(#b3)"/>
<rect x="613.6" y="334.6" width="37.6" height="54.0" fill="#000" opacity="0.04" filter="url(#b3)"/>
<rect x="253.7" y="335.2" width="40.8" height="12.5" rx="3" fill="#000" opacity="0.32" filter="url(#b2)"/>
<rect x="253.9" y="338.1" width="40.4" height="6.8" rx="2.5" fill="#000" opacity="0.90" filter="url(#b1)"/>
<rect x="307.0" y="335.0" width="40.5" height="16.0" rx="3" fill="#000" opacity="0.36" filter="url(#b2)"/>
<rect x="307.2" y="337.9" width="40.1" height="10.3" rx="2.5" fill="#000" opacity="1.00" filter="url(#b1)"/>
<rect x="358.0" y="337.0" width="41.0" height="17.0" rx="3" fill="#000" opacity="0.36" filter="url(#b2)"/>
<rect x="358.2" y="339.9" width="40.6" height="11.3" rx="2.5" fill="#000" opacity="1.00" filter="url(#b1)"/>
<rect x="410.0" y="336.8" width="40.5" height="16.5" rx="3" fill="#000" opacity="0.36" filter="url(#b2)"/>
<rect x="410.2" y="339.6" width="40.1" height="10.8" rx="2.5" fill="#000" opacity="1.00" filter="url(#b1)"/>
<rect x="462.0" y="332.1" width="36.0" height="12.5" rx="3" fill="#000" opacity="0.31" filter="url(#b2)"/>
<rect x="462.2" y="335.0" width="35.6" height="6.8" rx="2.5" fill="#000" opacity="0.85" filter="url(#b1)"/>
<rect x="510.7" y="331.8" width="39.3" height="17.5" rx="3" fill="#000" opacity="0.36" filter="url(#b2)" transform="rotate(-2 530.4 340.5)"/>
<rect x="510.9" y="334.6" width="38.9" height="11.8" rx="2.5" fill="#000" opacity="1.00" filter="url(#b1)" transform="rotate(-2 530.4 340.5)"/>
<rect x="564.0" y="328.1" width="34.5" height="11.5" rx="3" fill="#000" opacity="0.18" filter="url(#b2)"/>
<rect x="564.2" y="330.9" width="34.1" height="5.8" rx="2.2" fill="#000" opacity="0.50" filter="url(#b1)"/>
<rect x="613.8" y="327.6" width="37.2" height="14.0" rx="3" fill="#000" opacity="0.36" filter="url(#b2)" transform="rotate(-2 632.4 334.6)"/>
<rect x="614.0" y="330.5" width="36.8" height="8.3" rx="2.5" fill="#000" opacity="1.00" filter="url(#b1)" transform="rotate(-2 632.4 334.6)"/>
</g>
<rect x="248.15" y="304.55" width="412.00" height="70.30" fill="none" stroke="#000" stroke-width="3.5" rx="1.5"/>
<clipPath id="cp3"><rect x="244.6" y="383.3" width="419.0" height="71.2"/></clipPath>
<g clip-path="url(#cp3)">
<rect x="244.60" y="383.30" width="419.00" height="71.20" fill="#cccccc"/>
<rect x="250.8" y="371.3" width="50.4" height="47.7" fill="#000" opacity="0.10" filter="url(#b3)"/>
<rect x="250.8" y="419.0" width="50.4" height="47.5" fill="#000" opacity="0.13" filter="url(#b3)"/>
<rect x="305.8" y="371.3" width="45.4" height="47.7" fill="#000" opacity="0.10" filter="url(#b3)"/>
<rect x="305.8" y="419.0" width="45.4" height="47.5" fill="#000" opacity="0.13" filter="url(#b3)"/>
<rect x="355.8" y="371.3" width="46.4" height="49.7" fill="#000" opacity="0.09" filter="url(#b3)"/>
<rect x="355.8" y="421.0" width="46.4" height="45.5" fill="#000" opacity="0.11" filter="url(#b3)"/>
<rect x="406.8" y="371.3" width="43.4" height="48.7" fill="#000" opacity="0.10" filter="url(#b3)"/>
<rect x="406.8" y="420.0" width="43.4" height="46.5" fill="#000" opacity="0.13" filter="url(#b3)"/>
<rect x="455.8" y="371.3" width="45.4" height="48.7" fill="#000" opacity="0.16" filter="url(#b3)"/>
<rect x="455.8" y="420.0" width="45.4" height="46.5" fill="#000" opacity="0.18" filter="url(#b3)"/>
<rect x="505.8" y="371.3" width="43.4" height="43.7" fill="#000" opacity="0.11" filter="url(#b3)"/>
<rect x="505.8" y="415.0" width="43.4" height="51.5" fill="#000" opacity="0.12" filter="url(#b3)"/>
<rect x="555.8" y="371.3" width="44.4" height="44.7" fill="#000" opacity="0.09" filter="url(#b3)"/>
<rect x="555.8" y="416.0" width="44.4" height="50.5" fill="#000" opacity="0.10" filter="url(#b3)"/>
<rect x="604.8" y="371.3" width="49.4" height="40.7" fill="#000" opacity="0.24" filter="url(#b3)"/>
<rect x="604.8" y="412.0" width="49.4" height="54.5" fill="#000" opacity="0.28" filter="url(#b3)"/>
<rect x="251.2" y="411.5" width="49.6" height="15.0" rx="2.5" fill="#000" opacity="0.38" filter="url(#b4)"/>
<rect x="306.2" y="411.5" width="44.6" height="15.0" rx="2.5" fill="#000" opacity="0.38" filter="url(#b4)"/>
<rect x="356.2" y="414.5" width="45.6" height="13.0" rx="2.5" fill="#000" opacity="0.28" filter="url(#b4)"/>
<rect x="407.2" y="413.5" width="42.6" height="13.0" rx="2.5" fill="#000" opacity="0.32" filter="url(#b4)"/>
<rect x="456.2" y="410.5" width="44.6" height="19.0" rx="2.5" fill="#000" opacity="0.85" filter="url(#b4)"/>
<rect x="506.2" y="408.5" width="42.6" height="13.0" rx="2.5" fill="#000" opacity="0.52" filter="url(#b4)"/>
<rect x="556.2" y="410.5" width="43.6" height="11.0" rx="2.5" fill="#000" opacity="0.33" filter="url(#b4)"/>
<rect x="605.2" y="402.5" width="48.6" height="19.0" rx="2.5" fill="#000" opacity="0.95" filter="url(#b4)"/>
<rect x="244" y="383" width="420" height="72" fill="url(#fg)"/>
</g>
<rect x="246.35" y="385.05" width="415.50" height="67.70" fill="none" stroke="#000" stroke-width="3.5" rx="1.5"/>
<clipPath id="cp4"><rect x="244.5" y="462.0" width="418.3" height="71.7"/></clipPath>
<g clip-path="url(#cp4)">
<rect x="244.50" y="462.00" width="418.30" height="71.70" fill="#eeeeee"/>
<rect x="256.8" y="450.0" width="50.4" height="55.5" fill="#000" opacity="0.04" filter="url(#b3)"/>
<rect x="256.8" y="485.5" width="50.4" height="20.0" fill="#000" opacity="0.02" filter="url(#b3)"/>
<rect x="256.8" y="505.5" width="50.4" height="40.2" fill="#000" opacity="0.05" filter="url(#b3)"/>
<rect x="312.8" y="450.0" width="44.4" height="55.5" fill="#000" opacity="0.04" filter="url(#b3)"/>
<rect x="312.8" y="485.5" width="44.4" height="20.0" fill="#000" opacity="0.02" filter="url(#b3)"/>
<rect x="312.8" y="505.5" width="44.4" height="40.2" fill="#000" opacity="0.05" filter="url(#b3)"/>
<rect x="361.8" y="450.0" width="44.4" height="55.0" fill="#000" opacity="0.06" filter="url(#b3)"/>
<rect x="361.8" y="485.0" width="44.4" height="20.0" fill="#000" opacity="0.03" filter="url(#b3)"/>
<rect x="361.8" y="505.0" width="44.4" height="40.7" fill="#000" opacity="0.07" filter="url(#b3)"/>
<rect x="411.8" y="450.0" width="45.4" height="56.5" fill="#000" opacity="0.05" filter="url(#b3)"/>
<rect x="411.8" y="486.5" width="45.4" height="20.0" fill="#000" opacity="0.03" filter="url(#b3)"/>
<rect x="411.8" y="506.5" width="45.4" height="39.2" fill="#000" opacity="0.18" filter="url(#b3)"/>
<rect x="462.8" y="450.0" width="40.4" height="45.5" fill="#000" opacity="0.02" filter="url(#b3)"/>
<rect x="462.8" y="475.5" width="40.4" height="20.0" fill="#000" opacity="0.01" filter="url(#b3)"/>
<rect x="462.8" y="495.5" width="40.4" height="50.2" fill="#000" opacity="0.06" filter="url(#b3)"/>
<rect x="508.8" y="450.0" width="44.4" height="44.5" fill="#000" opacity="0.03" filter="url(#b3)"/>
<rect x="508.8" y="474.5" width="44.4" height="20.0" fill="#000" opacity="0.02" filter="url(#b3)"/>
<rect x="508.8" y="494.5" width="44.4" height="51.2" fill="#000" opacity="0.11" filter="url(#b3)"/>
<rect x="557.8" y="450.0" width="42.4" height="38.5" fill="#000" opacity="0.02" filter="url(#b3)"/>
<rect x="557.8" y="468.5" width="42.4" height="20.0" fill="#000" opacity="0.01" filter="url(#b3)"/>
<rect x="557.8" y="488.5" width="42.4" height="57.2" fill="#000" opacity="0.03" filter="url(#b3)"/>
<rect x="605.8" y="450.0" width="45.4" height="34.5" fill="#000" opacity="0.02" filter="url(#b3)"/>
<rect x="605.8" y="464.5" width="45.4" height="20.0" fill="#000" opacity="0.01" filter="url(#b3)"/>
<rect x="605.8" y="484.5" width="45.4" height="61.2" fill="#000" opacity="0.03" filter="url(#b3)"/>
<rect x="257.0" y="497.5" width="50.0" height="16.0" rx="3" fill="#000" opacity="0.36" filter="url(#b2)"/>
<rect x="257.2" y="500.4" width="49.6" height="10.3" rx="2.5" fill="#000" opacity="1.00" filter="url(#b1)"/>
<rect x="313.0" y="497.8" width="44.0" height="15.5" rx="3" fill="#000" opacity="0.36" filter="url(#b2)"/>
<rect x="313.2" y="500.6" width="43.6" height="9.8" rx="2.5" fill="#000" opacity="1.00" filter="url(#b1)"/>
<rect x="362.0" y="497.0" width="44.0" height="16.0" rx="3" fill="#000" opacity="0.36" filter="url(#b2)"/>
<rect x="362.2" y="499.9" width="43.6" height="10.3" rx="2.5" fill="#000" opacity="1.00" filter="url(#b1)"/>
<rect x="412.0" y="497.2" width="45.0" height="18.5" rx="3" fill="#000" opacity="0.36" filter="url(#b2)"/>
<rect x="412.2" y="500.1" width="44.6" height="12.8" rx="2.5" fill="#000" opacity="1.00" filter="url(#b1)"/>
<rect x="463.0" y="489.5" width="40.0" height="12.0" rx="3" fill="#000" opacity="0.22" filter="url(#b2)" transform="rotate(-1 483.0 495.5)"/>
<rect x="463.2" y="492.4" width="39.6" height="6.3" rx="2.5" fill="#000" opacity="0.60" filter="url(#b1)" transform="rotate(-1 483.0 495.5)"/>
<rect x="509.0" y="487.0" width="44.0" height="15.0" rx="3" fill="#000" opacity="0.36" filter="url(#b2)" transform="rotate(-1.5 531.0 494.5)"/>
<rect x="509.2" y="489.9" width="43.6" height="9.3" rx="2.5" fill="#000" opacity="1.00" filter="url(#b1)" transform="rotate(-1.5 531.0 494.5)"/>
<rect x="558.0" y="482.2" width="42.0" height="12.5" rx="3" fill="#000" opacity="0.31" filter="url(#b2)" transform="rotate(-1 579.0 488.5)"/>
<rect x="558.2" y="485.1" width="41.6" height="6.8" rx="2.5" fill="#000" opacity="0.85" filter="url(#b1)" transform="rotate(-1 579.0 488.5)"/>
<rect x="606.0" y="476.8" width="45.0" height="15.5" rx="3" fill="#000" opacity="0.36" filter="url(#b2)" transform="rotate(-3 628.5 484.5)"/>
<rect x="606.2" y="479.6" width="44.6" height="9.8" rx="2.5" fill="#000" opacity="1.00" filter="url(#b1)" transform="rotate(-3 628.5 484.5)"/>
<circle cx="407" cy="480" r="0.9" fill="#222"/>
</g>
<rect x="246.25" y="463.75" width="414.80" height="68.20" fill="none" stroke="#000" stroke-width="3.5" rx="1.5"/>
<clipPath id="cp5"><rect x="245.6" y="540.9" width="417.4" height="69.5"/></clipPath>
<g clip-path="url(#cp5)">
<rect x="245.60" y="540.90" width="417.40" height="69.50" fill="#f0f0f0"/>
<rect x="255.8" y="528.9" width="54.4" height="42.6" fill="#000" opacity="0.02" filter="url(#b3)"/>
<rect x="255.8" y="551.5" width="54.4" height="20.0" fill="#000" opacity="0.01" filter="url(#b3)"/>
<rect x="255.8" y="571.5" width="54.4" height="50.9" fill="#000" opacity="0.03" filter="url(#b3)"/>
<rect x="312.8" y="528.9" width="44.4" height="43.6" fill="#000" opacity="0.02" filter="url(#b3)"/>
<rect x="312.8" y="552.5" width="44.4" height="20.0" fill="#000" opacity="0.01" filter="url(#b3)"/>
<rect x="312.8" y="572.5" width="44.4" height="49.9" fill="#000" opacity="0.03" filter="url(#b3)"/>
<rect x="361.8" y="528.9" width="44.4" height="41.6" fill="#000" opacity="0.02" filter="url(#b3)"/>
<rect x="361.8" y="550.5" width="44.4" height="20.0" fill="#000" opacity="0.01" filter="url(#b3)"/>
<rect x="361.8" y="570.5" width="44.4" height="51.9" fill="#000" opacity="0.02" filter="url(#b3)"/>
<rect x="407.8" y="528.9" width="46.4" height="44.1" fill="#000" opacity="0.02" filter="url(#b3)"/>
<rect x="407.8" y="553.0" width="46.4" height="20.0" fill="#000" opacity="0.01" filter="url(#b3)"/>
<rect x="407.8" y="573.0" width="46.4" height="49.4" fill="#000" opacity="0.02" filter="url(#b3)"/>
<rect x="504.8" y="528.9" width="52.4" height="44.1" fill="#000" opacity="0.02" filter="url(#b3)"/>
<rect x="504.8" y="553.0" width="52.4" height="20.0" fill="#000" opacity="0.01" filter="url(#b3)"/>
<rect x="504.8" y="573.0" width="52.4" height="49.4" fill="#000" opacity="0.02" filter="url(#b3)"/>
<rect x="552.8" y="528.9" width="46.4" height="44.1" fill="#000" opacity="0.02" filter="url(#b3)"/>
<rect x="552.8" y="553.0" width="46.4" height="20.0" fill="#000" opacity="0.01" filter="url(#b3)"/>
<rect x="552.8" y="573.0" width="46.4" height="49.4" fill="#000" opacity="0.02" filter="url(#b3)"/>
<rect x="596.8" y="528.9" width="54.4" height="43.6" fill="#000" opacity="0.02" filter="url(#b3)"/>
<rect x="596.8" y="552.5" width="54.4" height="20.0" fill="#000" opacity="0.01" filter="url(#b3)"/>
<rect x="596.8" y="572.5" width="54.4" height="49.9" fill="#000" opacity="0.02" filter="url(#b3)"/>
<rect x="256.0" y="561.8" width="54.0" height="19.5" rx="3" fill="#000" opacity="0.25" filter="url(#b2)"/>
<rect x="256.2" y="564.6" width="53.6" height="13.8" rx="2.5" fill="#000" opacity="1.00" filter="url(#b2)"/>
<rect x="313.0" y="562.5" width="44.0" height="20.0" rx="3" fill="#000" opacity="0.25" filter="url(#b2)"/>
<rect x="313.2" y="565.4" width="43.6" height="14.3" rx="2.5" fill="#000" opacity="1.00" filter="url(#b2)"/>
<rect x="362.0" y="562.5" width="44.0" height="16.0" rx="3" fill="#000" opacity="0.25" filter="url(#b2)"/>
<rect x="362.2" y="565.4" width="43.6" height="10.3" rx="2.5" fill="#000" opacity="1.00" filter="url(#b2)"/>
<rect x="408.0" y="563.8" width="46.0" height="18.5" rx="3" fill="#000" opacity="0.25" filter="url(#b2)"/>
<rect x="408.2" y="566.6" width="45.6" height="12.8" rx="2.5" fill="#000" opacity="1.00" filter="url(#b2)"/>
<rect x="459.0" y="564.8" width="24.0" height="13.5" rx="3" fill="#000" opacity="0.20" filter="url(#b2)"/>
<rect x="459.2" y="567.6" width="23.6" height="7.8" rx="2.5" fill="#000" opacity="0.80" filter="url(#b2)"/>
<rect x="487.0" y="567.0" width="18.0" height="14.0" rx="3" fill="#000" opacity="0.24" filter="url(#b2)"/>
<rect x="487.2" y="569.9" width="17.6" height="8.3" rx="2.5" fill="#000" opacity="0.95" filter="url(#b2)"/>
<rect x="505.0" y="563.8" width="52.0" height="18.5" rx="3" fill="#000" opacity="0.25" filter="url(#b2)"/>
<rect x="505.2" y="566.6" width="51.6" height="12.8" rx="2.5" fill="#000" opacity="1.00" filter="url(#b2)"/>
<rect x="553.0" y="564.5" width="46.0" height="17.0" rx="3" fill="#000" opacity="0.25" filter="url(#b2)"/>
<rect x="553.2" y="567.4" width="45.6" height="11.3" rx="2.5" fill="#000" opacity="1.00" filter="url(#b2)"/>
<rect x="597.0" y="563.8" width="54.0" height="17.5" rx="3" fill="#000" opacity="0.25" filter="url(#b2)"/>
<rect x="597.2" y="566.6" width="53.6" height="11.8" rx="2.5" fill="#000" opacity="1.00" filter="url(#b2)"/>
</g>
<rect x="247.35" y="542.65" width="413.90" height="66.00" fill="none" stroke="#000" stroke-width="3.5" rx="1.5"/>
<text transform="translate(109.02,106.90) scale(1.0133,1)" font-size="34.91" font-weight="bold">A</text>
<text transform="translate(149.22,145.20) scale(1.0387,1)" font-size="33.93" font-weight="bold">Diet:</text>
<text transform="translate(264.63,144.60) scale(1.0024,1)" font-size="46.62" font-weight="bold">Control</text>
<text transform="translate(511.82,144.60) scale(0.9984,1)" font-size="47.17" font-weight="bold">Noni</text>
<line x1="247.00" y1="154.70" x2="450.70" y2="154.70" stroke="#000" stroke-width="4.00"/>
<line x1="461.70" y1="154.70" x2="665.50" y2="154.70" stroke="#000" stroke-width="4.00"/>
<text transform="translate(3.46,187.80) scale(1.0492,1)" font-size="33.10" font-weight="bold">Environment:</text>
<text transform="translate(279.37,199.40) scale(0.9517,1)" font-size="36.07" font-weight="bold">TN</text>
<text transform="translate(383.15,199.40) scale(0.9803,1)" font-size="35.56" font-weight="bold">HS</text>
<text transform="translate(489.37,199.40) scale(0.9628,1)" font-size="36.07" font-weight="bold">TN</text>
<text transform="translate(591.56,199.40) scale(0.9759,1)" font-size="35.56" font-weight="bold">HS</text>
<line x1="256.40" y1="209.00" x2="346.30" y2="209.00" stroke="#000" stroke-width="3.50"/>
<line x1="364.50" y1="209.00" x2="454.40" y2="209.00" stroke="#000" stroke-width="3.50"/>
<line x1="464.80" y1="209.00" x2="554.90" y2="209.00" stroke="#000" stroke-width="3.50"/>
<line x1="568.40" y1="209.00" x2="658.20" y2="209.00" stroke="#000" stroke-width="3.50"/>
<text transform="translate(141.11,232.50) scale(0.9525,1)" font-size="35.31" font-style="italic">kDa</text>
<text transform="translate(144.57,273.30) scale(0.9459,1)" font-size="35.56" font-style="italic">280</text>
<path d="M203.7 253.5 L242.6 262.7 L203.7 272.1 Z" fill="#111"/>
<rect x="203" y="261.4" width="15" height="3" fill="#fff"/>
<text transform="translate(146.56,348.90) scale(0.9152,1)" font-size="35.70" font-style="italic">280</text>
<path d="M203.7 329.8 L242.6 339.0 L203.7 348.4 Z" fill="#111"/>
<rect x="203" y="337.7" width="15" height="3" fill="#fff"/>
<text transform="translate(145.77,425.00) scale(0.9477,1)" font-size="34.98" font-style="italic">273</text>
<path d="M203.7 406.3 L242.6 415.5 L203.7 424.9 Z" fill="#111"/>
<rect x="203" y="414.2" width="15" height="3" fill="#fff"/>
<text transform="translate(147.80,513.70) scale(0.9117,1)" font-size="35.13" font-style="italic">122</text>
<path d="M203.7 495.3 L242.6 504.5 L203.7 513.9 Z" fill="#111"/>
<rect x="203" y="503.2" width="15" height="3" fill="#fff"/>
<text transform="translate(166.36,585.50) scale(0.9450,1)" font-size="35.70" font-style="italic">37</text>
<path d="M203.7 566.6 L242.6 575.8 L203.7 585.2 Z" fill="#111"/>
<rect x="203" y="574.5" width="15" height="3" fill="#fff"/>
<text transform="translate(715.86,258.20) scale(0.9444,1)" font-size="36.42" font-style="italic">p-ACC</text>
<path d="M710.2 244.3 L671.2 253.3 L710.2 263.3 Z" fill="#111"/>
<text transform="translate(715.42,341.90) scale(0.9498,1)" font-size="35.99" font-style="italic">ACC</text>
<path d="M710.2 324.0 L671.2 333.0 L710.2 343.0 Z" fill="#111"/>
<text transform="translate(712.76,421.50) scale(0.9521,1)" font-size="36.56" font-style="italic">FASN</text>
<path d="M710.2 403.6 L671.2 412.6 L710.2 422.6 Z" fill="#111"/>
<text transform="translate(714.64,496.40) scale(0.9543,1)" font-size="36.13" font-style="italic">ACLY</text>
<path d="M710.2 478.5 L671.2 487.5 L710.2 497.5 Z" fill="#111"/>
<text transform="translate(712.48,585.10) scale(0.9563,1)" font-size="35.99" font-style="italic">GAPDH</text>
<path d="M710.2 565.8 L671.2 574.8 L710.2 584.8 Z" fill="#111"/>
</svg>
</body></html>
